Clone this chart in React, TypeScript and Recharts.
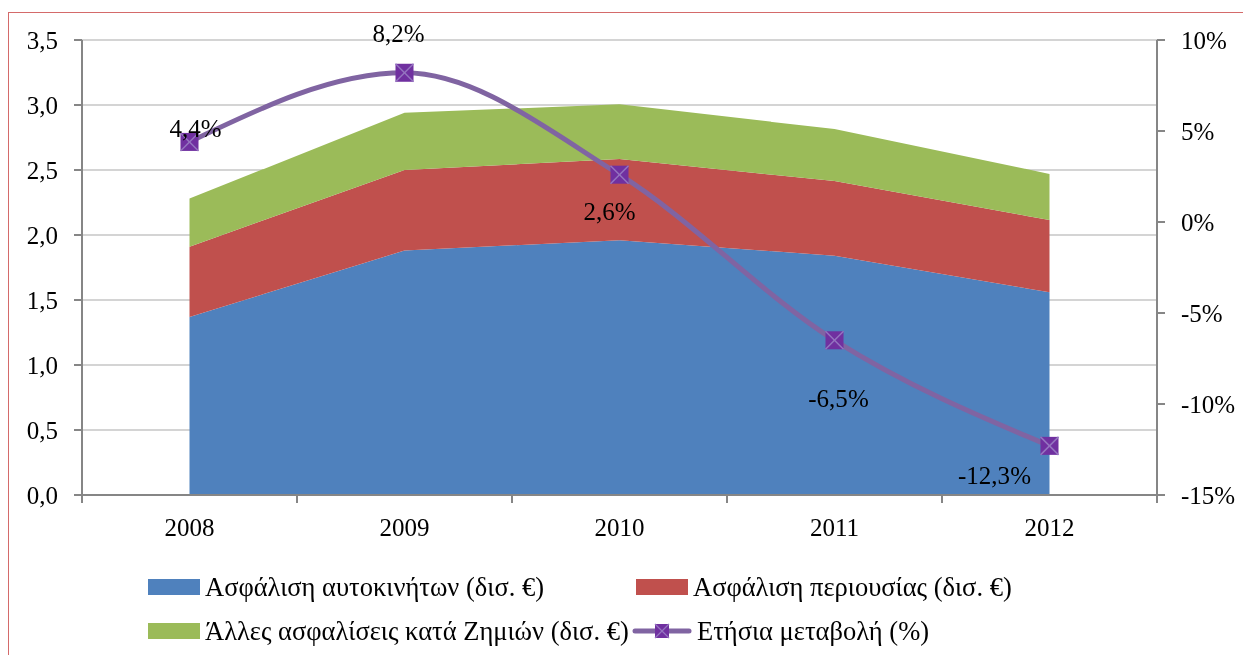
import { ComposedChart, Area, Line, XAxis, YAxis, CartesianGrid, Legend, LabelList } from 'recharts';

const years = ['2008', '2009', '2010', '2011', '2012'];
const carInsurance = [1.37, 1.88, 1.96, 1.84, 1.56];
const propertyInsurance = [0.54, 0.62, 0.625, 0.575, 0.555];
const otherInsurance = [0.37, 0.44, 0.42, 0.4, 0.355];
const annualChange = [4.4, 8.2, 2.6, -6.5, -12.3];
const leftTicks = [0, 0.5, 1, 1.5, 2, 2.5, 3, 3.5];
const rightTicks = [-15, -10, -5, 0, 5, 10];

const seriesNames = {
  car: 'Ασφάλιση αυτοκινήτων (δισ. €)',
  property: 'Ασφάλιση περιουσίας (δισ. €)',
  other: 'Άλλες ασφαλίσεις κατά Ζημιών (δισ. €)',
  change: 'Ετήσια μεταβολή (%)',
};
const legendOrder = ['car', 'property', 'other', 'change'];

const colors = {
  car: '#4F81BD',
  property: '#C0504D',
  other: '#9BBB59',
  change: '#8064A2',
  marker: '#7030A0',
  markerCross: '#9575C0',
  axis: '#868686',
  grid: '#C6C6C6',
};

const data = years.map((year, i) => ({
  year,
  car: carInsurance[i],
  property: propertyInsurance[i],
  other: otherInsurance[i],
  change: annualChange[i],
}));

const W = 1227;
const H = 639;
const FONT = '"Liberation Serif", "Times New Roman", serif';
const FS = 25;
const HALF_BAND = 107.5;

// where each data label sits relative to its marker
const labelShift = [
  { dx: 6, dy: -14 },
  { dx: -6, dy: -40 },
  { dx: -10, dy: 37 },
  { dx: 4, dy: 58 },
  { dx: -55, dy: 29 },
];

const fmtComma = (v: number) => v.toFixed(1).replace('.', ',');

function XTick(props: any) {
  const { x, y, payload, index } = props;
  const axisY = y - 8;
  return (
    <g>
      <line x1={x - HALF_BAND} x2={x - HALF_BAND} y1={axisY} y2={axisY + 8} stroke={colors.axis} strokeWidth={2} />
      {index === years.length - 1 && (
        <line x1={x + HALF_BAND} x2={x + HALF_BAND} y1={axisY} y2={axisY + 8} stroke={colors.axis} strokeWidth={2} />
      )}
      <text x={x} y={axisY + 41} textAnchor="middle" fontFamily={FONT} fontSize={FS} fill="#000">
        {payload.value}
      </text>
    </g>
  );
}

function Marker(props: any) {
  const { cx, cy } = props;
  if (cx == null || cy == null) return null;
  const s = 9;
  return (
    <g>
      <rect x={cx - s} y={cy - s} width={2 * s} height={2 * s} fill={colors.marker} />
      <line x1={cx - s} y1={cy - s} x2={cx + s} y2={cy + s} stroke={colors.markerCross} strokeWidth={1.5} />
      <line x1={cx - s} y1={cy + s} x2={cx + s} y2={cy - s} stroke={colors.markerCross} strokeWidth={1.5} />
    </g>
  );
}

function ChangeLabel(props: any) {
  const { x, y, value, index } = props;
  const shift = labelShift[index] || { dx: 0, dy: -20 };
  return (
    <text
      x={x + shift.dx}
      y={y + shift.dy}
      dy="0.35em"
      textAnchor="middle"
      fontFamily={FONT}
      fontSize={FS}
      fill="#000"
    >
      {fmtComma(value)}%
    </text>
  );
}

function LegendIcon({ k }: { k: string }) {
  if (k === 'change') {
    return (
      <svg width={60} height={18} style={{ marginRight: 5 }}>
        <line x1={3} x2={57} y1={9} y2={9} stroke={colors.change} strokeWidth={5} strokeLinecap="round" />
        <rect x={23} y={2} width={14} height={14} fill={colors.marker} />
        <line x1={23} y1={2} x2={37} y2={16} stroke={colors.markerCross} strokeWidth={1.2} />
        <line x1={23} y1={16} x2={37} y2={2} stroke={colors.markerCross} strokeWidth={1.2} />
      </svg>
    );
  }
  return (
    <span
      style={{
        display: 'inline-block',
        width: 52,
        height: 16,
        background: (colors as any)[k],
        marginLeft: 4,
        marginRight: 5,
      }}
    />
  );
}

function renderLegend(props: any) {
  const present = new Set((props.payload || []).map((p: any) => String(p.dataKey)));
  const keys = legendOrder.filter((k) => present.size === 0 || present.has(k));
  return (
    <div
      style={{
        display: 'grid',
        gridTemplateColumns: '488px auto',
        gridAutoRows: 44,
        paddingLeft: 136,
        fontFamily: FONT,
        fontSize: 26.5,
        color: '#000',
      }}
    >
      {keys.map((k: string) => (
        <div key={k} style={{ display: 'flex', alignItems: 'center', whiteSpace: 'nowrap' }}>
          <LegendIcon k={k} />
          <span>{(seriesNames as any)[k]}</span>
        </div>
      ))}
    </div>
  );
}

export default function App() {
  return (
    <div style={{ position: 'relative', width: W, height: H }}>
      <div
        style={{
          position: 'fixed',
          left: 8,
          top: 12,
          width: 1400,
          height: 800,
          borderTop: '1px solid #D46A6A',
          borderLeft: '1px solid #D46A6A',
          pointerEvents: 'none',
        }}
      />
      <ComposedChart width={W} height={H} data={data} margin={{ top: 32, right: 0, bottom: 2, left: 0 }}>
        <CartesianGrid yAxisId="left" vertical={false} stroke={colors.grid} strokeWidth={1.5} />
        <XAxis
          dataKey="year"
          padding={{ left: HALF_BAND, right: HALF_BAND }}
          height={70}
          interval={0}
          tickSize={8}
          tickMargin={0}
          tickLine={false}
          axisLine={{ stroke: colors.axis, strokeWidth: 2 }}
          tick={<XTick />}
        />
        <YAxis
          yAxisId="left"
          width={74}
          domain={[0, 3.5]}
          ticks={leftTicks}
          tickFormatter={fmtComma}
          tickSize={8}
          tickMargin={16}
          axisLine={{ stroke: colors.axis, strokeWidth: 2 }}
          tickLine={{ stroke: colors.axis, strokeWidth: 2 }}
          tick={{ fontFamily: FONT, fontSize: FS, fill: '#000' }}
        />
        <YAxis
          yAxisId="right"
          orientation="right"
          width={78}
          domain={[-15, 10]}
          ticks={rightTicks}
          tickFormatter={(v: number) => `${v}%`}
          tickSize={8}
          tickMargin={16}
          axisLine={{ stroke: colors.axis, strokeWidth: 2 }}
          tickLine={{ stroke: colors.axis, strokeWidth: 2 }}
          tick={{ fontFamily: FONT, fontSize: FS, fill: '#000', textAnchor: 'start' }}
        />
        <Area
          yAxisId="left"
          type="linear"
          dataKey="car"
          stackId="a"
          fill={colors.car}
          fillOpacity={1}
          stroke="none"
          name={seriesNames.car}
          isAnimationActive={false}
        />
        <Area
          yAxisId="left"
          type="linear"
          dataKey="property"
          stackId="a"
          fill={colors.property}
          fillOpacity={1}
          stroke="none"
          name={seriesNames.property}
          isAnimationActive={false}
        />
        <Area
          yAxisId="left"
          type="linear"
          dataKey="other"
          stackId="a"
          fill={colors.other}
          fillOpacity={1}
          stroke="none"
          name={seriesNames.other}
          isAnimationActive={false}
        />
        <Line
          yAxisId="right"
          type="monotone"
          dataKey="change"
          stroke={colors.change}
          strokeWidth={5}
          dot={<Marker />}
          activeDot={false}
          name={seriesNames.change}
          isAnimationActive={false}
        >
          <LabelList dataKey="change" content={<ChangeLabel />} />
        </Line>
        <Legend
          verticalAlign="bottom"
          align="left"
          width={W}
          height={80}
          wrapperStyle={{ left: 0, bottom: 2 }}
          content={renderLegend}
        />
      </ComposedChart>
    </div>
  );
}
